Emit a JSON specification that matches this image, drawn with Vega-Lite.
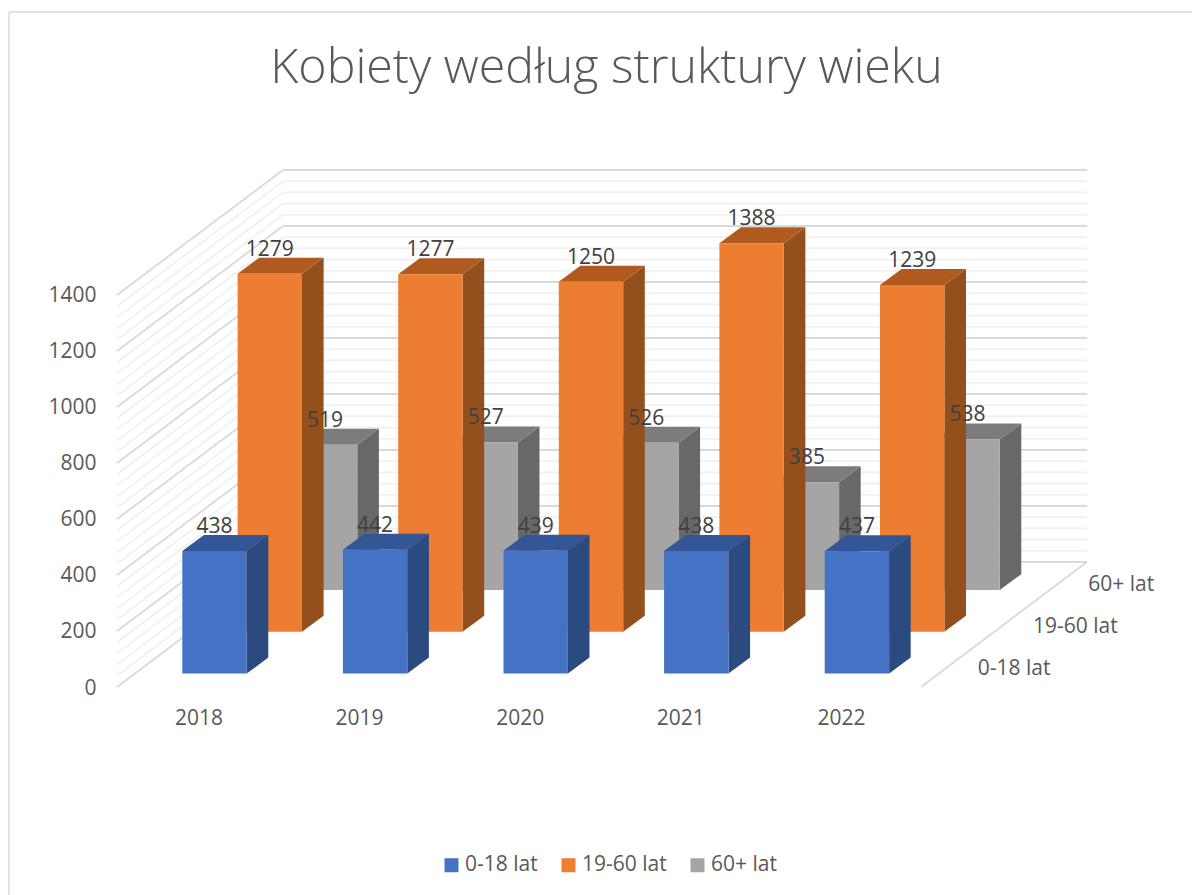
{
"$schema":"https://vega.github.io/schema/vega-lite/v6.json",
"autosize":"none","width":970,"height":517,
"padding":{"left":117,"top":170,"right":105,"bottom":208},
"background":"white",
"title":{"text":"Kobiety według struktury wieku","anchor":"middle","frame":"group","offset":-82,"dx":4.5,"font":"Open Sans","fontWeight":300,"fontSize":48.3,"color":"#595959"},
"config":{"view":{"stroke":null},"text":{"font":"Open Sans"},
 "axis":{"title":null,"grid":false,"domain":false,"ticks":false,"labelFont":"Open Sans","labelFontSize":21,"labelColor":"#595959","labelFlush":false,"labelOverlap":false},
 "axisX":{"labelPadding":20},"axisY":{"labelPadding":21,"labelOffset":1}},
"datasets":{
"bars":[
{"year":2018,"series":"0-18 lat","value":438},{"year":2019,"series":"0-18 lat","value":442},{"year":2020,"series":"0-18 lat","value":439},{"year":2021,"series":"0-18 lat","value":438},{"year":2022,"series":"0-18 lat","value":437},
{"year":2018,"series":"19-60 lat","value":1279},{"year":2019,"series":"19-60 lat","value":1277},{"year":2020,"series":"19-60 lat","value":1250},{"year":2021,"series":"19-60 lat","value":1388},{"year":2022,"series":"19-60 lat","value":1239},
{"year":2018,"series":"60+ lat","value":519},{"year":2019,"series":"60+ lat","value":527},{"year":2020,"series":"60+ lat","value":526},{"year":2021,"series":"60+ lat","value":385},{"year":2022,"series":"60+ lat","value":538}
],
"grid":[{"g":0},{"g":40},{"g":80},{"g":120},{"g":160},{"g":200},{"g":240},{"g":280},{"g":320},{"g":360},{"g":400},{"g":440},{"g":480},{"g":520},{"g":560},{"g":600},{"g":640},{"g":680},{"g":720},{"g":760},{"g":800},{"g":840},{"g":880},{"g":920},{"g":960},{"g":1000},{"g":1040},{"g":1080},{"g":1120},{"g":1160},{"g":1200},{"g":1240},{"g":1280},{"g":1320},{"g":1360},{"g":1400}]
},
"layer":[
{"data":{"values":[{"a":2016.82,"b":2024.186,"c":2410.7,"d":2410.7},{"a":2016.82,"b":2016.82,"c":2410.7,"d":-742.9}]},
 "mark":{"type":"rule","color":"#d9d9d9","strokeWidth":1.5},
 "encoding":{
  "x":{"field":"a","type":"quantitative","scale":{"domain":[2017.4925,2023.5324],"nice":false,"zero":false},
    "axis":{"values":[2018,2019,2020,2021,2022],"format":"d"}},
  "x2":{"field":"b"},
  "y":{"field":"c","type":"quantitative","scale":{"domain":[0,1846.4],"nice":false,"zero":false},
    "axis":{"values":[0,200,400,600,800,1000,1200,1400],"format":"d"}},
  "y2":{"field":"d"}}},
{"data":{"name":"grid"},
 "transform":[{"calculate":"datum.g%200==0","as":"major"},{"calculate":"datum.g+446.4","as":"back"},{"calculate":"2018.526","as":"xa"},{"calculate":"2023.532","as":"xb"},{"calculate":"2017.4925","as":"xc"}],
 "layer":[
  {"transform":[{"filter":"!datum.major"}],"mark":{"type":"rule","color":"#f0f0f0","strokeWidth":1.8},
   "encoding":{"x":{"field":"xa","type":"quantitative"},"x2":{"field":"xb"},"y":{"field":"back","type":"quantitative"}}},
  {"transform":[{"filter":"!datum.major"}],"mark":{"type":"rule","color":"#f0f0f0","strokeWidth":1.8},
   "encoding":{"x":{"field":"xc","type":"quantitative"},"x2":{"field":"xa"},"y":{"field":"g","type":"quantitative"},"y2":{"field":"back"}}},
  {"transform":[{"filter":"datum.major"}],"mark":{"type":"rule","color":"#d9d9d9","strokeWidth":1.8},
   "encoding":{"x":{"field":"xa","type":"quantitative"},"x2":{"field":"xb"},"y":{"field":"back","type":"quantitative"}}},
  {"transform":[{"filter":"datum.major"}],"mark":{"type":"rule","color":"#d9d9d9","strokeWidth":1.8},
   "encoding":{"x":{"field":"xc","type":"quantitative"},"x2":{"field":"xa"},"y":{"field":"g","type":"quantitative"},"y2":{"field":"back"}}}
 ]},
{"data":{"values":[{"a":2022.499,"b":2023.532,"c":0,"d":446.4}]},
 "mark":{"type":"rule","color":"#d9d9d9","strokeWidth":1.8},
 "encoding":{"x":{"field":"a","type":"quantitative"},"x2":{"field":"b"},"y":{"field":"c","type":"quantitative"},"y2":{"field":"d"}}},
{"data":{"name":"bars"},
 "transform":[
  {"calculate":"indexof(['0-18 lat','19-60 lat','60+ lat'],datum.series)","as":"k"},
  {"calculate":"datum.year-0.1009+datum.k*0.3443","as":"x0"},
  {"calculate":"datum.x0+0.401","as":"x1"},
  {"calculate":"48+datum.k*149","as":"base"},
  {"calculate":"datum.base+datum.value","as":"top"},
  {"calculate":"[0,1]","as":"t"},
  {"flatten":["t"]},
  {"calculate":"datum.x1+datum.t*0.1345","as":"sx"},
  {"calculate":"datum.top+datum.t*57.1","as":"sy"},
  {"calculate":"datum.base+datum.t*57.1","as":"sy2"},
  {"calculate":"datum.x0+datum.t*0.1345","as":"tx"},
  {"calculate":"datum.x1+datum.t*0.1345","as":"tx2"},
  {"calculate":"(datum.x0+datum.x1)/2","as":"lx"},
  {"calculate":"datum.top+86","as":"ly"}
 ],
 "layer":[
  {"transform":[{"filter":"datum.k==2"}],"mark":{"type":"area","orient":"vertical","color":"#686868"},
   "encoding":{"x":{"field":"sx","type":"quantitative"},"y":{"field":"sy","type":"quantitative"},"y2":{"field":"sy2"},"detail":{"field":"year"}}},
  {"transform":[{"filter":"datum.k==2"}],"mark":{"type":"area","orient":"horizontal","color":"#7c7c7c"},
   "encoding":{"y":{"field":"sy","type":"quantitative"},"x":{"field":"tx","type":"quantitative"},"x2":{"field":"tx2"},"detail":{"field":"year"}}},
  {"transform":[{"filter":"datum.k==2&&datum.t==0"}],"mark":{"type":"rect"},
   "encoding":{"x":{"field":"x0","type":"quantitative"},"x2":{"field":"x1"},"y":{"field":"base","type":"quantitative"},"y2":{"field":"top"},
    "color":{"field":"series","type":"nominal","scale":{"domain":["0-18 lat","19-60 lat","60+ lat"],"range":["#4472c4","#ed7d31","#a5a5a5"]},
     "legend":{"orient":"none","legendX":324,"legendY":684.5,"direction":"horizontal","title":null,"symbolType":"square","symbolSize":196,"symbolStrokeWidth":0,"labelFont":"Open Sans","labelFontSize":21,"labelColor":"#595959","labelOffset":3,"columnPadding":20}}}},
  {"transform":[{"filter":"datum.k==1"}],"mark":{"type":"area","orient":"vertical","color":"#94501c"},
   "encoding":{"x":{"field":"sx","type":"quantitative"},"y":{"field":"sy","type":"quantitative"},"y2":{"field":"sy2"},"detail":{"field":"year"}}},
  {"transform":[{"filter":"datum.k==1"}],"mark":{"type":"area","orient":"horizontal","color":"#b15a20"},
   "encoding":{"y":{"field":"sy","type":"quantitative"},"x":{"field":"tx","type":"quantitative"},"x2":{"field":"tx2"},"detail":{"field":"year"}}},
  {"transform":[{"filter":"datum.k==1&&datum.t==0"}],"mark":{"type":"rect"},
   "encoding":{"x":{"field":"x0","type":"quantitative"},"x2":{"field":"x1"},"y":{"field":"base","type":"quantitative"},"y2":{"field":"top"},
    "color":{"field":"series","type":"nominal"}}},
  {"transform":[{"filter":"datum.k==0"}],"mark":{"type":"area","orient":"vertical","color":"#2a4a80"},
   "encoding":{"x":{"field":"sx","type":"quantitative"},"y":{"field":"sy","type":"quantitative"},"y2":{"field":"sy2"},"detail":{"field":"year"}}},
  {"transform":[{"filter":"datum.k==0"}],"mark":{"type":"area","orient":"horizontal","color":"#335696"},
   "encoding":{"y":{"field":"sy","type":"quantitative"},"x":{"field":"tx","type":"quantitative"},"x2":{"field":"tx2"},"detail":{"field":"year"}}},
  {"transform":[{"filter":"datum.k==0&&datum.t==0"}],"mark":{"type":"rect"},
   "encoding":{"x":{"field":"x0","type":"quantitative"},"x2":{"field":"x1"},"y":{"field":"base","type":"quantitative"},"y2":{"field":"top"},
    "color":{"field":"series","type":"nominal"}}},
  {"transform":[{"filter":"datum.t==0"}],"mark":{"type":"text","font":"Open Sans","fontSize":21,"color":"#404040"},
   "encoding":{"x":{"field":"lx","type":"quantitative"},"y":{"field":"ly","type":"quantitative"},"text":{"field":"value","type":"quantitative","format":"d"}}},
  {"transform":[{"filter":"datum.t==0&&datum.year==2022"},{"calculate":"2022.852+datum.k*0.3443","as":"dx"},{"calculate":"66+datum.k*149","as":"dy"}],
   "mark":{"type":"text","font":"Open Sans","fontSize":21,"color":"#595959","align":"left"},
   "encoding":{"x":{"field":"dx","type":"quantitative"},"y":{"field":"dy","type":"quantitative"},"text":{"field":"series","type":"nominal"}}}
 ]}
]
}
